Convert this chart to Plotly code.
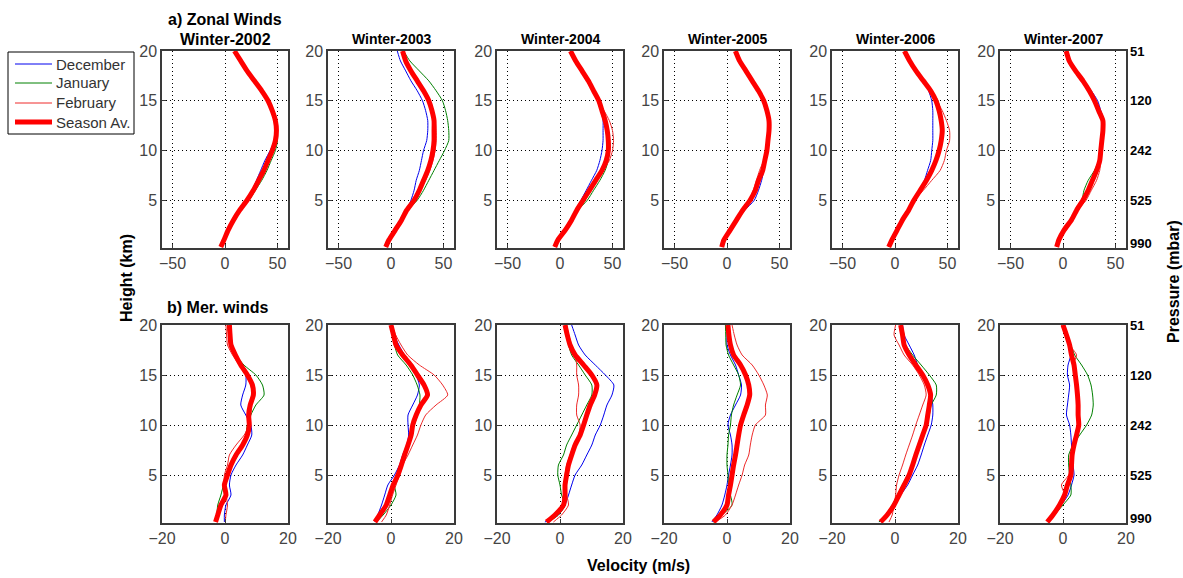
import plotly.graph_objects as go

# ---------------- data ----------------
HEIGHTS = [0.3, 1, 2, 3, 4, 5, 6, 7, 8, 9, 10, 11, 12, 13, 14, 15, 16, 17, 18, 19, 20]
YEARS = ["2002", "2003", "2004", "2005", "2006", "2007"]
MONTHS = ["December", "January", "February", "Season Av."]
PRESSURE_KM = [0.7, 5, 10, 15, 20]
PRESSURE_LABELS = ["990", "525", "242", "120", "51"]
ZON_TICKS = [-50, 0, 50]
MER_TICKS = [-20, 0, 20]
H_TICKS = [5, 10, 15, 20]

# Zonal winds (m/s)
zon02_dec = [-4, -1, 3, 8, 14, 21, 26, 30, 34, 38, 43, 47, 48, 47, 44, 40, 34, 27, 20, 14, 9]
zon02_jan = [-4, -1, 3, 8, 15, 23, 29, 35, 40, 44, 48, 50, 50, 49, 46, 42, 36, 29, 22, 16, 10]
zon02_feb = [-4, -1, 3, 8, 14, 21, 27, 32, 37, 41, 45, 48, 49, 48, 45, 41, 35, 28, 21, 15, 9]
zon02_avg = [-4, -1, 3, 8, 14, 21, 27, 32, 37, 41, 45, 48, 49, 48, 45, 41, 35, 28, 21, 15, 9]

zon03_dec = [-5, -2, 4, 10, 15, 19, 22, 24, 27, 29, 31, 34, 35, 35, 33, 30, 25, 19, 14, 9, 6]
zon03_jan = [-5, -2, 4, 10, 16, 25, 31, 36, 41, 46, 51, 55, 55, 54, 52, 49, 43, 36, 27, 18, 12]
zon03_feb = [-5, -2, 4, 10, 15, 22, 28, 33, 37, 40, 42, 43, 43, 42, 40, 36, 31, 25, 19, 14, 11]
zon03_avg = [-5, -2, 4, 10, 15, 22, 27, 31, 35, 38, 40, 41, 41, 41, 39, 36, 31, 25, 19, 14, 11]

zon04_dec = [-5, -2, 5, 11, 16, 20, 25, 30, 35, 38, 40, 41, 41, 41, 39, 36, 31, 26, 20, 15, 10]
zon04_jan = [-5, -2, 5, 11, 17, 26, 32, 38, 43, 46, 47, 47, 46, 44, 41, 38, 32, 27, 21, 15, 10]
zon04_feb = [-5, -2, 5, 11, 16, 22, 28, 34, 41, 47, 50, 51, 50, 47, 42, 37, 32, 27, 21, 15, 10]
zon04_avg = [-5, -2, 5, 11, 16, 22, 28, 34, 40, 44, 46, 46, 45, 43, 40, 37, 32, 27, 21, 15, 10]

zon05_dec = [-5, -3, 3, 10, 17, 26, 30, 33, 35, 37, 38, 39, 40, 40, 38, 35, 30, 24, 18, 12, 8]
zon05_jan = [-5, -3, 3, 9, 15, 22, 28, 31, 35, 37, 38, 39, 40, 40, 38, 35, 30, 24, 18, 12, 8]
zon05_feb = [-5, -3, 3, 9, 14, 21, 25, 28, 31, 35, 38, 39, 40, 40, 38, 35, 30, 24, 18, 12, 8]
zon05_avg = [-5, -3, 3, 9, 15, 22, 27, 30, 34, 36, 38, 39, 40, 40, 38, 35, 30, 24, 18, 12, 8]

zon06_dec = [-6, -3, 2, 7, 13, 18, 23, 28, 31, 34, 35, 36, 36, 36, 36, 35, 32, 27, 20, 14, 9]
zon06_jan = [-6, -3, 2, 7, 13, 18, 24, 30, 34, 38, 41, 43, 44, 44, 43, 41, 35, 28, 21, 14, 9]
zon06_feb = [-6, -3, 2, 7, 13, 18, 27, 35, 43, 47, 49, 52, 52, 49, 45, 40, 34, 27, 20, 14, 9]
zon06_avg = [-6, -3, 2, 7, 13, 18, 24, 30, 35, 39, 42, 44, 45, 44, 42, 39, 34, 27, 20, 14, 9]

zon07_dec = [-6, -4, 1, 8, 13, 19, 24, 28, 32, 35, 36, 37, 38, 39, 36, 33, 27, 20, 12, 6, 3]
zon07_jan = [-6, -4, 1, 8, 13, 18, 20, 24, 30, 34, 36, 37, 38, 38, 34, 30, 25, 19, 12, 6, 3]
zon07_feb = [-6, -4, 1, 8, 14, 22, 27, 32, 35, 36, 36, 37, 38, 38, 34, 30, 25, 19, 12, 6, 3]
zon07_avg = [-6, -4, 1, 8, 13, 19, 24, 28, 32, 35, 36, 37, 38, 38, 34, 30, 25, 19, 12, 6, 3]

# Meridional winds (m/s)
mer02_dec = [-0.2, -0.2, 0.3, 1.9, 1.4, 1.9, 3.5, 5.6, 7.1, 8.5, 8.2, 6.6, 5.0, 5.6, 6.6, 6.6, 5.0, 3.5, 2.4, 1.9, 1.4]
mer02_jan = [-2.8, -2.6, -2.3, -1.3, -0.5, 0.3, 1.4, 3.5, 5.6, 6.6, 7.1, 8.2, 9.8, 12.4, 11.9, 9.8, 6.0, 3.5, 2.0, 1.2, 0.8]
mer02_feb = [0.1, 0.3, 0.8, 0.3, -0.2, -0.2, 0.8, 1.4, 3.5, 6.1, 7.7, 8.2, 8.5, 8.7, 8.2, 7.1, 4.5, 2.4, 0.8, 0.5, 0.3]
mer02_avg = [-3.0, -2.3, -1.3, 0.3, -0.2, 0.8, 1.9, 3.5, 5.6, 7.1, 7.7, 7.5, 8.0, 9.0, 8.7, 7.1, 5.0, 3.3, 1.9, 1.6, 1.4]

mer03_dec = [-5.1, -4.2, -3.0, -2.0, -1.0, 1.1, 2.7, 3.7, 5.0, 5.6, 5.4, 5.4, 6.9, 8.4, 9.0, 7.9, 5.8, 4.2, 2.5, 1.0, 0.0]
mer03_jan = [-4.6, -2.5, 0.0, 1.6, 1.1, 2.2, 3.3, 4.3, 5.4, 6.4, 7.4, 8.4, 9.0, 9.2, 8.3, 6.9, 4.8, 2.1, 1.1, 0.5, 0.0]
mer03_feb = [-3.0, -1.5, -0.4, 0.5, 1.6, 2.7, 3.7, 5.4, 6.9, 8.4, 9.5, 11.0, 14.3, 18.0, 16.4, 13.7, 9.0, 5.3, 3.2, 1.5, 0.3]
mer03_avg = [-5.1, -3.6, -1.5, -0.4, 0.7, 2.2, 3.3, 4.3, 5.4, 6.4, 6.9, 8.0, 9.5, 11.6, 10.5, 8.4, 6.3, 3.7, 1.6, 0.8, 0.0]

mer04_dec = [-4.8, -0.5, 1.6, 2.7, 3.7, 4.8, 6.9, 8.5, 10.1, 11.2, 12.8, 13.9, 14.9, 16.5, 17.1, 14.4, 11.2, 8.0, 5.9, 4.8, 3.7]
mer04_jan = [-3.7, -0.5, 1.6, 0.5, 0.0, -0.7, -0.5, 1.1, 2.1, 3.7, 5.3, 6.9, 8.5, 10.1, 10.1, 8.0, 5.9, 3.7, 2.7, 2.0, 1.6]
mer04_feb = [-2.1, 0.5, 2.7, 2.1, 1.6, 1.6, 2.1, 3.2, 4.3, 5.9, 6.4, 5.3, 5.3, 5.9, 5.9, 5.3, 5.3, 4.8, 3.7, 2.8, 2.1]
mer04_avg = [-4.3, -1.6, 1.1, 1.6, 1.6, 2.1, 2.7, 3.7, 4.8, 6.4, 7.5, 8.5, 9.6, 11.0, 11.7, 10.1, 7.5, 4.8, 3.2, 2.3, 1.6]

mer05_dec = [-4.8, -3.2, -1.6, -0.7, 0.0, 0.5, 1.1, 1.6, 1.6, 1.1, 0.3, 1.1, 2.7, 4.3, 4.6, 3.7, 2.7, 1.1, 0.0, 0.0, 0.0]
mer05_jan = [-4.3, -1.6, 1.6, 1.1, 0.5, 0.3, 0.0, 0.0, 0.3, 0.5, 1.1, 1.4, 2.1, 3.2, 4.3, 3.7, 2.1, 0.5, -0.3, -0.4, -0.5]
mer05_feb = [-3.7, -0.5, 1.6, 2.7, 3.7, 4.8, 5.6, 6.9, 7.4, 8.0, 9.0, 12.2, 12.2, 12.8, 11.7, 10.1, 8.0, 4.8, 3.2, 2.3, 1.6]
mer05_avg = [-4.3, -2.1, 0.0, 0.5, 1.1, 1.6, 2.1, 2.7, 3.2, 3.7, 4.3, 5.3, 6.4, 7.2, 6.9, 5.9, 4.3, 2.1, 1.1, 0.6, 0.3]

mer06_dec = [-5.1, -2.5, -0.3, 1.8, 4.0, 5.6, 7.2, 8.3, 9.3, 10.4, 11.5, 12.0, 12.0, 11.5, 10.4, 8.8, 7.2, 6.1, 4.5, 2.9, 2.4]
mer06_jan = [-5.1, -3.0, -0.9, 0.8, 2.4, 4.0, 5.6, 6.6, 7.7, 8.8, 9.9, 10.9, 11.5, 13.1, 13.1, 10.9, 8.3, 5.6, 3.4, 2.5, 1.8]
mer06_feb = [-1.9, -0.9, -0.3, 0.2, 0.5, 1.3, 2.4, 3.4, 4.5, 5.6, 6.6, 7.7, 8.8, 9.9, 9.3, 7.7, 5.6, 2.9, 1.3, -0.3, 0.2]
mer06_avg = [-4.6, -2.5, -0.3, 1.3, 2.9, 4.5, 5.6, 6.6, 7.7, 8.8, 9.9, 10.4, 10.9, 11.3, 10.4, 8.8, 6.6, 4.5, 2.9, 2.4, 1.8]

mer07_dec = [-4.5, -2.9, -0.5, 1.6, 2.7, 3.5, 3.2, 2.9, 2.7, 2.5, 2.1, 1.1, 1.4, 1.8, 2.1, 1.4, 1.6, 2.5, 2.1, 1.2, 0.5]
mer07_jan = [-4.5, -2.7, 0.0, 2.5, 2.5, 2.1, 1.8, 1.8, 3.2, 5.3, 7.5, 9.1, 9.6, 9.4, 8.9, 7.8, 5.9, 3.7, 2.5, 1.2, 0.0]
mer07_feb = [-4.8, -2.9, -1.1, 0.5, -0.5, 1.8, 2.5, 2.7, 3.2, 4.3, 4.8, 5.0, 4.8, 4.6, 4.3, 3.5, 3.2, 4.3, 2.1, 0.8, -0.5]
mer07_avg = [-5.0, -3.2, -1.1, 0.5, 1.4, 2.5, 2.7, 2.9, 3.5, 4.3, 5.0, 4.8, 4.8, 4.6, 4.3, 3.9, 3.5, 2.7, 2.1, 1.1, 0.0]

ZONAL = [
    [zon02_dec, zon02_jan, zon02_feb, zon02_avg],
    [zon03_dec, zon03_jan, zon03_feb, zon03_avg],
    [zon04_dec, zon04_jan, zon04_feb, zon04_avg],
    [zon05_dec, zon05_jan, zon05_feb, zon05_avg],
    [zon06_dec, zon06_jan, zon06_feb, zon06_avg],
    [zon07_dec, zon07_jan, zon07_feb, zon07_avg],
]
MERID = [
    [mer02_dec, mer02_jan, mer02_feb, mer02_avg],
    [mer03_dec, mer03_jan, mer03_feb, mer03_avg],
    [mer04_dec, mer04_jan, mer04_feb, mer04_avg],
    [mer05_dec, mer05_jan, mer05_feb, mer05_avg],
    [mer06_dec, mer06_jan, mer06_feb, mer06_avg],
    [mer07_dec, mer07_jan, mer07_feb, mer07_avg],
]

# ---------------- layout ----------------
W, H = 1183, 578
COL_LEFT = [162, 328, 497, 664, 832, 1000]
COL_W = 126
TOP_ROW = (51, 248)
BOT_ROW = (325, 523)
COLORS = ["#0000ee", "#008000", "#ee2a2a", "#ff0000"]
WIDTHS = [1, 1, 1, 5]
FONT = "Liberation Sans, Arial, sans-serif"
NARROW = "Liberation Sans Narrow, Arial Narrow, Liberation Sans, sans-serif"


def px_x(x):
    return x / W


def px_y(y):
    return 1 - y / H


fig = go.Figure()
layout = dict(
    template="none",
    width=W, height=H, margin=dict(l=0, r=0, t=0, b=0, autoexpand=False),
    paper_bgcolor="white", plot_bgcolor="white",
    font=dict(family=FONT, size=13, color="#333333"),
    showlegend=False,
)

annotations = []
shapes = []
for row, (data, xr, xt, (ytop, ybot)) in enumerate([
    (ZONAL, [-60, 60], ZON_TICKS, TOP_ROW),
    (MERID, [-20, 20], MER_TICKS, BOT_ROW),
]):
    for col in range(6):
        idx = row * 6 + col + 1
        sfx = "" if idx == 1 else str(idx)
        for m in range(4):
            fig.add_trace(go.Scatter(
                x=data[col][m], y=HEIGHTS, mode="lines",
                line=dict(shape="spline", smoothing=0.6, color=COLORS[m], width=WIDTHS[m]),
                name=MONTHS[m], showlegend=False,
                xaxis="x" + sfx, yaxis="y" + sfx,
            ))
        axcommon = dict(showline=True, mirror=True, linecolor="#3a3a3a", linewidth=1.5,
                        showgrid=True, gridcolor="#000000", griddash="1px,3px", gridwidth=1,
                        zeroline=False, ticks="inside", ticklen=4, tickcolor="#3a3a3a",
                        automargin=False,
                        tickfont=dict(family=FONT, size=16, color="#444444"))
        layout["xaxis" + sfx] = dict(
            domain=[px_x(COL_LEFT[col]), px_x(COL_LEFT[col] + COL_W)],
            anchor="y" + sfx, range=xr, tickvals=xt, **axcommon)
        layout["yaxis" + sfx] = dict(
            domain=[px_y(ybot), px_y(ytop)],
            anchor="x" + sfx, range=[0.2, 20], tickvals=H_TICKS, **axcommon)
        if col == 5:
            for pk, pl in zip(PRESSURE_KM, PRESSURE_LABELS):
                annotations.append(dict(
                    x=px_x(COL_LEFT[col] + COL_W + 2), xref="paper",
                    y=pk, yref="y" + sfx, text="<b>" + pl + "</b>",
                    showarrow=False, xanchor="left", yanchor="middle",
                    font=dict(family=NARROW, size=13, color="#000000")))

# legend drawn as a framed box
LEG_BOX = (8, 52, 134, 134)
LEG_ROWS = [64, 83, 103, 122]
shapes.append(dict(type="rect", xref="paper", yref="paper",
                   x0=px_x(LEG_BOX[0]), x1=px_x(LEG_BOX[2]), y0=px_y(LEG_BOX[3]), y1=px_y(LEG_BOX[1]),
                   line=dict(color="#000000", width=1), fillcolor="white"))
for m, yy in enumerate(LEG_ROWS):
    shapes.append(dict(type="line", xref="paper", yref="paper",
                       x0=px_x(15), x1=px_x(52), y0=px_y(yy), y1=px_y(yy),
                       line=dict(color=COLORS[m], width=WIDTHS[m])))
    annotations.append(dict(x=px_x(54), y=px_y(yy), xref="paper", yref="paper",
                            text=MONTHS[m], showarrow=False, xanchor="left", yanchor="middle",
                            font=dict(family=FONT, size=15, color="#333333")))

# titles
annotations.append(dict(x=px_x(COL_LEFT[0] + COL_W / 2), y=px_y(20), xref="paper", yref="paper",
                        text="<b>a) Zonal Winds</b>", showarrow=False,
                        font=dict(family=FONT, size=16, color="#000000"),
                        xanchor="center", yanchor="middle"))
for col, yr in enumerate(YEARS):
    annotations.append(dict(x=px_x(COL_LEFT[col] + COL_W / 2), y=px_y(39), xref="paper", yref="paper",
                            text="<b>Winter-" + yr + "</b>", showarrow=False,
                            font=dict(family=FONT, size=16 if col == 0 else 14, color="#000000"),
                            xanchor="center", yanchor="middle"))
annotations.append(dict(x=px_x(165), y=px_y(307), xref="paper", yref="paper",
                        text="<b>b) Mer. winds</b>", showarrow=False,
                        font=dict(family=FONT, size=16, color="#000000"),
                        xanchor="left", yanchor="middle"))
annotations.append(dict(x=px_x(126), y=px_y(278), xref="paper", yref="paper",
                        text="<b>Height (km)</b>", showarrow=False, textangle=-90,
                        font=dict(family=FONT, size=16, color="#000000"),
                        xanchor="center", yanchor="middle"))
annotations.append(dict(x=px_x(1174), y=px_y(282), xref="paper", yref="paper",
                        text="<b>Pressure (mbar)</b>", showarrow=False, textangle=-90,
                        font=dict(family=FONT, size=16, color="#000000"),
                        xanchor="center", yanchor="middle"))
annotations.append(dict(x=px_x(638), y=px_y(565), xref="paper", yref="paper",
                        text="<b>Velocity (m/s)</b>", showarrow=False,
                        font=dict(family=FONT, size=16, color="#000000"),
                        xanchor="center", yanchor="middle"))
layout["annotations"] = annotations
layout["shapes"] = shapes
fig.update_layout(**layout)
fig.write_html("out.html")
